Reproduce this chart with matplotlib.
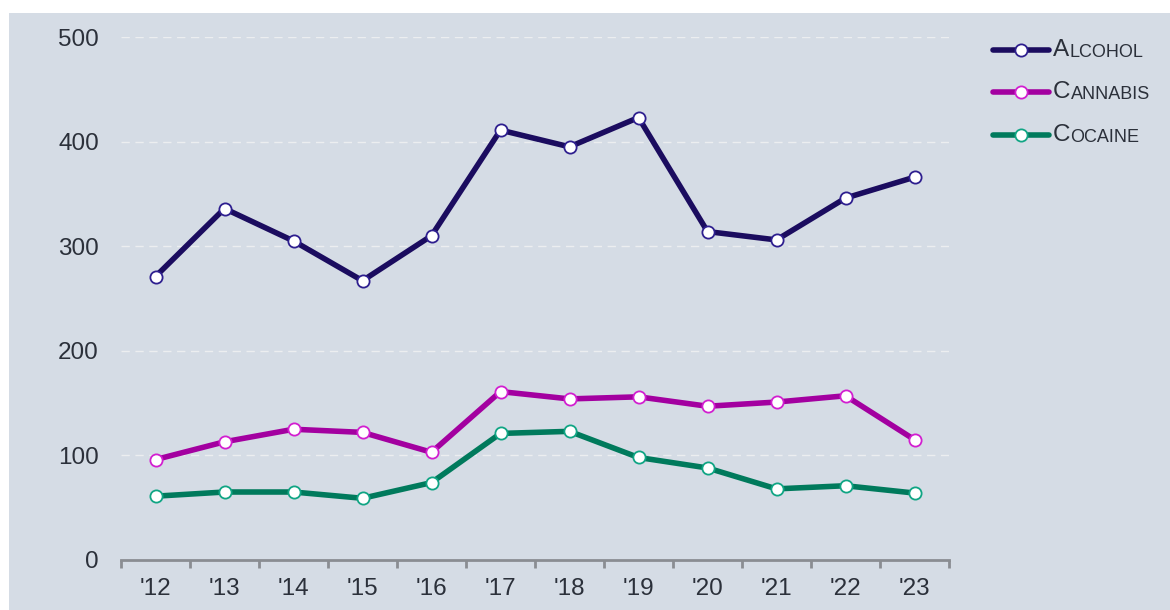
import matplotlib
matplotlib.use("Agg")
import matplotlib.pyplot as plt
from matplotlib.lines import Line2D
import numpy as np

years = ["'12", "'13", "'14", "'15", "'16", "'17", "'18", "'19", "'20", "'21", "'22", "'23"]
alcohol = [271, 336, 305, 267, 310, 411, 395, 423, 314, 306, 346, 366]
cannabis = [96, 113, 125, 122, 103, 161, 154, 156, 147, 151, 157, 115]
cocaine = [61, 65, 65, 59, 74, 121, 123, 98, 88, 68, 71, 64]

series = [
    ("Alcohol", alcohol, "#1b0c5f", "#2e1f8f"),
    ("Cannabis", cannabis, "#a300a0", "#d21fd0"),
    ("Cocaine", cocaine, "#007a5c", "#10a584"),
]

plt.rcParams['font.family'] = ['Liberation Sans', 'DejaVu Sans']
W, H = 1170, 610
fig = plt.figure(figsize=(W / 100, H / 100), dpi=100, facecolor="white")
bg = "#d5dce5"
bax = fig.add_axes([9 / W, 0, 1 - 9 / W, 1 - 13 / H], zorder=-10)
bax.set_facecolor(bg)
bax.set_xticks([]); bax.set_yticks([])
for s in bax.spines.values():
    s.set_visible(False)

left, right, bottom, top = 121, 949, 560, 37
ax = fig.add_axes([left / W, 1 - bottom / H, (right - left) / W, (bottom - top) / H], zorder=1)
ax.set_facecolor("none")

LW, MS = 4.0, 8.8
x = np.arange(len(years))
for name, vals, col, ecol in series:
    ax.plot(x, vals, color=col, lw=LW, marker="o", ms=MS, mfc="white", mec=ecol,
            mew=1.3, solid_capstyle="round", zorder=3, clip_on=False)

ax.set_xlim(-0.5, len(years) - 0.5)
ax.set_ylim(0, 500)
ax.set_yticks([0, 100, 200, 300, 400, 500])
ax.set_xticks(x)
ax.set_xticklabels(years)
ax.set_xticks(np.arange(-0.5, len(years)), minor=True)
ax.tick_params(axis="x", which="major", length=0, pad=13, labelsize=17.5, labelcolor="#2b303a")
ax.tick_params(axis="x", which="minor", length=6, width=2, color="#8a8d92", direction="out")
ax.tick_params(axis="y", length=0, pad=16, labelsize=17.5, labelcolor="#2b303a")
for s in ["left", "right", "top"]:
    ax.spines[s].set_visible(False)
ax.spines["bottom"].set_color("#8a8d92")
ax.spines["bottom"].set_linewidth(2)
for v in [100, 200, 300, 400, 500]:
    ax.axhline(v, color="#eceef0", lw=1, ls=(0, (6, 4)), zorder=1)

# Legend (manual, small caps)
leg_y = [50, 92, 135]
for (name, vals, col, ecol), yy in zip(series, leg_y):
    yf = 1 - yy / H
    ax.add_artist(Line2D([993 / W, 1049 / W], [yf, yf], transform=fig.transFigure,
                         color=col, lw=LW, solid_capstyle="round", clip_on=False))
    ax.add_artist(Line2D([1021 / W], [yf], transform=fig.transFigure, marker="o", ms=MS,
                         mfc="white", mec=ecol, mew=1.3, color=col, clip_on=False))
    t1 = ax.text(1053 / W, yf, name[0], transform=fig.transFigure, fontsize=17.5,
                 color="#2b303a", va="center", ha="left", clip_on=False)
    ax.annotate(name[1:].upper(), xy=(1, 0), xycoords=t1, xytext=(0, 0), textcoords="offset points",
                fontsize=13, color="#2b303a", va="bottom", ha="left", annotation_clip=False)

fig.savefig("out.png", dpi=100, facecolor="white")
